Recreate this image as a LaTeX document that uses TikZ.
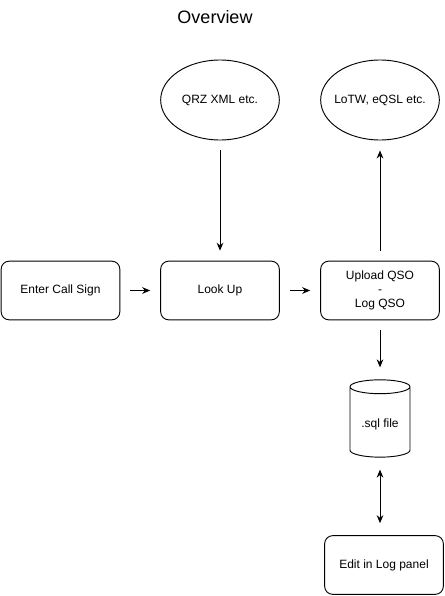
\documentclass[tikz,border=0pt]{standalone}
\usepackage{fontspec}
\setmainfont{Liberation Sans}
\usetikzlibrary{shapes.geometric, arrows.meta, positioning, calc}

\tikzset{
  stepbox/.style={draw, rounded corners=6pt, minimum width=89pt, minimum height=44pt, align=center, font=\fontsize{9}{10.5}\selectfont, line width=0.7pt},
  source/.style={draw, ellipse, inner xsep=-8pt, inner ysep=0pt, minimum width=89pt, minimum height=60pt, font=\fontsize{9}{10.5}\selectfont, line width=0.7pt},
  store/.style={draw, cylinder, shape border rotate=90, aspect=0.3, minimum width=45pt, minimum height=58pt, font=\fontsize{9}{10.5}\selectfont, line width=0.7pt},
  flow/.style={-{Stealth[length=6pt, width=5pt]}, line width=0.7pt, shorten <=7.5pt, shorten >=7.5pt},
}

\begin{document}
\begin{tikzpicture}[x=0.75pt, y=-0.75pt]
        \useasboundingbox (0,0) rectangle (445,596);

        % Titolo
        \node[font=\fontsize{13.5}{15}\selectfont] (title) at (215,17) {Overview};

        % Sorgenti esterne
        \node[source] (qrz) at (220,100) {QRZ XML etc.};
        \node[source] (lotw) at (380,100) {LoTW, eQSL etc.};

        % Passi
        \node[stepbox] (call) at (60.5,290.5) {Enter Call Sign};
        \node[stepbox] (lookup) at (220,290.5) {Look Up};
        \node[stepbox] (upload) at (380,290.5) {Upload QSO\\-\\Log QSO};

        % Archivio
        \node[store] (sql) at (380,424) {.sql file};
        \node[stepbox] (edit) at (384,565) {Edit in Log panel};

        % Frecce
        \draw[flow] (call) -- (lookup);
        \draw[flow] (lookup) -- (upload);
        \draw[flow] (qrz) -- (qrz |- lookup.north);
        \draw[flow] (upload.north) -- (upload.north |- lotw.south);
        \draw[flow, shorten >=9pt] (upload.south) -- (sql.top);
        \draw[flow, {Stealth[length=6pt, width=5pt]}-{Stealth[length=6pt, width=5pt]}, shorten <=9pt, shorten >=9pt] (sql.bottom) -- (sql.bottom |- edit.north);
    \end{tikzpicture}
\end{document}
